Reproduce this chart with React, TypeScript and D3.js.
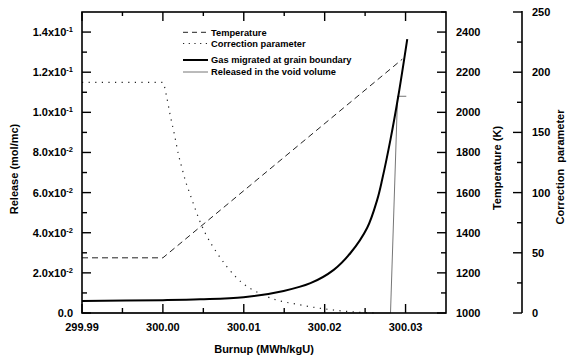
import React from "react";
import * as d3 from "d3";

// ---- data ----
const burnupTicks = [299.99, 300.0, 300.01, 300.02, 300.03];
const burnupMinorTicks = [299.995, 300.005, 300.015, 300.025];

const releaseTicks = [0, 0.02, 0.04, 0.06, 0.08, 0.1, 0.12, 0.14];
const releaseTickMantissa = ["0.0", "2.0", "4.0", "6.0", "8.0", "1.0", "1.2", "1.4"];
const releaseTickExp = ["", "-2", "-2", "-2", "-2", "-1", "-1", "-1"];
const releaseMinorTicks = [0.01, 0.03, 0.05, 0.07, 0.09, 0.11, 0.13];

const tempTicks = [1000, 1200, 1400, 1600, 1800, 2000, 2200, 2400];
const tempMinorTicks = [1100, 1300, 1500, 1700, 1900, 2100, 2300, 2500];

const corrTicks = [0, 50, 100, 150, 200, 250];
const corrMinorTicks = [25, 75, 125, 175, 225];

// Temperature (K) vs burnup
const tempBurnup = [299.99, 300.0, 300.0296];
const tempValues = [1275, 1275, 2265];

// Correction parameter vs burnup
const corrBurnup = [
  299.99, 300.0, 300.0004, 300.0009, 300.00143, 300.00193, 300.00235, 300.00279,
  300.00334, 300.00391, 300.00449, 300.00523, 300.00668, 300.00916, 300.01287,
  300.017, 300.02108, 300.02526, 300.0264,
];
const corrValues = [
  191.5, 191.5, 181.7, 164.4, 148.1, 131.4, 120.6, 109.7, 98.9, 88.1, 77.5, 66.4,
  50, 29, 13.6, 6.7, 2.5, 0.25, 0,
];

// Gas migrated at grain boundary (mol/mc)
const gasBurnup = [
  299.99, 300.0, 300.00461, 300.00998, 300.01493, 300.01824, 300.02112, 300.02319,
  300.02526, 300.0265, 300.02711, 300.02814, 300.0291, 300.03021,
];
const gasValues = [
  0.006, 0.0064, 0.0068, 0.00785, 0.011, 0.01485, 0.0215, 0.0299, 0.0425, 0.0565,
  0.0665, 0.0865, 0.108, 0.1365,
];

// Released in the void volume (mol/mc)
const voidBurnup = [299.99, 300.02814, 300.02901, 300.03009];
const voidValues = [0, 0, 0.108, 0.108];

const legendLabels = [
  "Temperature",
  "Correction parameter",
  "Gas migrated at grain boundary",
  "Released in the void volume",
];

export default function App() {
  const W = 567;
  const H = 362;
  const left = 82;
  const right = 446;
  const top = 12;
  const bottom = 313;
  const corrAxisX = 522;

  const x = d3.scaleLinear().domain([299.99, 300.035]).range([left, right]);
  const yRel = d3.scaleLinear().domain([0, 0.15]).range([bottom, top]);
  const yTemp = d3.scaleLinear().domain([1000, 2500]).range([bottom, top]);
  const yCorr = d3.scaleLinear().domain([0, 250]).range([bottom, top]);

  const font = "'Liberation Sans', Arial, Helvetica, sans-serif";

  const lineTemp = d3
    .line<number>()
    .x((_, i) => x(tempBurnup[i]))
    .y((d) => yTemp(d));
  const lineCorr = d3
    .line<number>()
    .x((_, i) => x(corrBurnup[i]))
    .y((d) => yCorr(d))
    .curve(d3.curveMonotoneX);
  const lineGas = d3
    .line<number>()
    .x((_, i) => x(gasBurnup[i]))
    .y((d) => yRel(d))
    .curve(d3.curveCatmullRom.alpha(0.5));
  const lineVoid = d3
    .line<number>()
    .x((_, i) => x(voidBurnup[i]))
    .y((d) => yRel(d));

  const tickW = 1.4;
  const major = 9;
  const minor = 5;

  const legendY = [32.3, 43.5, 60, 72];
  const legendStyles = [
    { stroke: "#222", width: 1, dash: "5,4" },
    { stroke: "#222", width: 1.2, dash: "1.2,4.5" },
    { stroke: "#000", width: 2, dash: "" },
    { stroke: "#666", width: 0.9, dash: "" },
  ];

  return (
    <svg
      width={W}
      height={H}
      viewBox={`0 0 ${W} ${H}`}
      style={{ position: "absolute", left: 0, top: 0, background: "#fff" }}
      fontFamily={font}
      fontWeight="bold"
    >
      <rect x={0} y={0} width={W} height={H} fill="#fff" />

      {/* data lines */}
      <path d={lineVoid(voidValues) || ""} fill="none" stroke="#666" strokeWidth={0.9} />
      <path
        d={lineTemp(tempValues) || ""}
        fill="none"
        stroke="#222"
        strokeWidth={1}
        strokeDasharray="6,4"
      />
      <path
        d={lineCorr(corrValues) || ""}
        fill="none"
        stroke="#222"
        strokeWidth={1.2}
        strokeDasharray="1.2,5.4"
      />
      <path d={lineGas(gasValues) || ""} fill="none" stroke="#000" strokeWidth={2} />

      {/* frame */}
      <rect
        x={left}
        y={top}
        width={right - left}
        height={bottom - top}
        fill="none"
        stroke="#000"
        strokeWidth={1.6}
      />

      {/* bottom & top ticks */}
      {burnupTicks.map((t) => (
        <g key={"bt" + t}>
          <line x1={x(t)} x2={x(t)} y1={bottom} y2={bottom - major} stroke="#000" strokeWidth={tickW} />
          <line x1={x(t)} x2={x(t)} y1={top} y2={top + major} stroke="#000" strokeWidth={tickW} />
          <text x={x(t)} y={331} textAnchor="middle" fontSize={11} fill="#000">
            {t.toFixed(2)}
          </text>
        </g>
      ))}
      {burnupMinorTicks.map((t) => (
        <g key={"bm" + t}>
          <line x1={x(t)} x2={x(t)} y1={bottom} y2={bottom - minor} stroke="#000" strokeWidth={tickW} />
          <line x1={x(t)} x2={x(t)} y1={top} y2={top + 4} stroke="#000" strokeWidth={tickW} />
        </g>
      ))}

      {/* left axis */}
      {releaseTicks.map((t, i) => (
        <g key={"lt" + t}>
          <line x1={left} x2={left + major} y1={yRel(t)} y2={yRel(t)} stroke="#000" strokeWidth={tickW} />
          <text x={73} y={yRel(t) + 4} textAnchor="end" fontSize={11} fill="#000">
            {releaseTickExp[i] ? (
              <>
                <tspan>{releaseTickMantissa[i] + "x10"}</tspan>
                <tspan fontSize={7.5} dy={-4}>
                  {releaseTickExp[i]}
                </tspan>
              </>
            ) : (
              releaseTickMantissa[i]
            )}
          </text>
        </g>
      ))}
      {releaseMinorTicks.map((t) => (
        <line key={"lm" + t} x1={left} x2={left + minor} y1={yRel(t)} y2={yRel(t)} stroke="#000" strokeWidth={tickW} />
      ))}

      {/* right temperature axis */}
      {tempTicks.map((t) => (
        <g key={"rt" + t}>
          <line x1={right} x2={right - major} y1={yTemp(t)} y2={yTemp(t)} stroke="#000" strokeWidth={tickW} />
          <text x={456} y={yTemp(t) + 4} textAnchor="start" fontSize={11} fill="#000">
            {t}
          </text>
        </g>
      ))}
      {tempMinorTicks.map((t) => (
        <line key={"rm" + t} x1={right} x2={right - minor} y1={yTemp(t)} y2={yTemp(t)} stroke="#000" strokeWidth={tickW} />
      ))}

      {/* correction parameter axis */}
      <line x1={corrAxisX} x2={corrAxisX} y1={yCorr(250) - 1} y2={bottom} stroke="#000" strokeWidth={1.6} />
      {corrTicks.map((t) => (
        <g key={"ct" + t}>
          <line x1={corrAxisX} x2={corrAxisX - major} y1={yCorr(t)} y2={yCorr(t)} stroke="#000" strokeWidth={tickW} />
          <text x={532} y={yCorr(t) + 4} textAnchor="start" fontSize={11} fill="#000">
            {t}
          </text>
        </g>
      ))}
      {corrMinorTicks.map((t) => (
        <line key={"cm" + t} x1={corrAxisX} x2={corrAxisX - minor} y1={yCorr(t)} y2={yCorr(t)} stroke="#000" strokeWidth={tickW} />
      ))}

      {/* axis titles */}
      <text x={264} y={353} textAnchor="middle" fontSize={11} fill="#000">
        Burnup (MWh/kgU)
      </text>
      <text transform="translate(18,169) rotate(-90)" textAnchor="middle" fontSize={11} fill="#000">
        Release (mol/mc)
      </text>
      <text transform="translate(501,168) rotate(-90)" textAnchor="middle" fontSize={11} fill="#000">
        Temperature (K)
      </text>
      <text
        transform="translate(564,167) rotate(-90)"
        textAnchor="middle"
        fontSize={11}
        fill="#000"
        style={{ whiteSpace: "pre" }}
      >
        {"Correction  parameter"}
      </text>

      {/* legend */}
      {legendLabels.map((lab, i) => (
        <g key={lab}>
          <line
            x1={183}
            x2={208}
            y1={legendY[i]}
            y2={legendY[i]}
            stroke={legendStyles[i].stroke}
            strokeWidth={legendStyles[i].width}
            strokeDasharray={legendStyles[i].dash || undefined}
          />
          <text x={211} y={legendY[i] + 3.3} fontSize={9.3} fill="#000">
            {lab}
          </text>
        </g>
      ))}
    </svg>
  );
}
